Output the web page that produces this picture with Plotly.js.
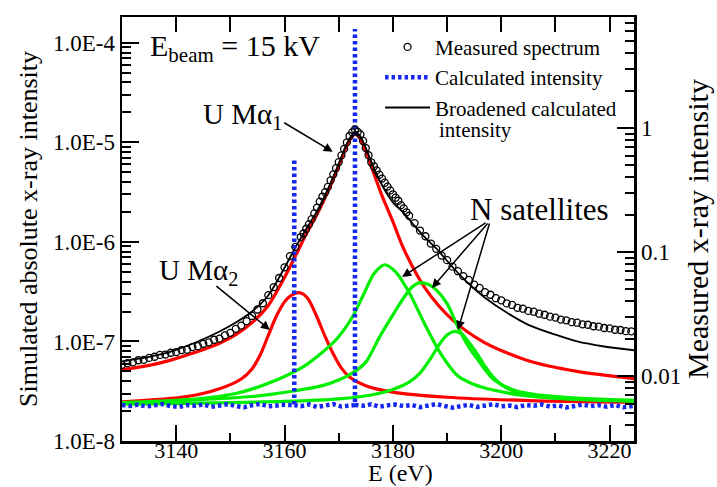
<!DOCTYPE html>
<html>
<head>
<meta charset="utf-8">
<script src="https://cdn.plot.ly/plotly-3.0.1.min.js"></script>
<style>html,body{margin:0;padding:0;background:#fff}</style>
</head>
<body>
<div id="chart" style="width:717px;height:487px"></div>
<script>
// ---------------- data ----------------
// Measured spectrum (right axis, relative units)
const E_meas = [3130,3131,3132,3133,3134,3135,3136,3137,3138,3139,
  3140,3141,3142,3143,3144,3145,3146,3147,3148,3149,
  3150,3151,3152,3153,3154,3155,3156,3157,3158,3159,
  3160,3161,3162,3163,3163.5,3164,3164.5,3165,3165.5,3166,3166.5,3167,3167.5,3168,3168.5,3169,3169.5,
  3170,3170.5,3171,3171.5,3172,3172.5,3173,3173.5,3174,3174.5,3175,3175.5,3176,3176.5,3177,3177.5,3178,3178.5,3179,3179.5,
  3180,3180.5,3181,3181.5,3182,3182.5,3183,3184,3185,3186,3187,3188,3189,
  3190,3191,3192,3193,3194,3195,3196,3197,3198,3199,
  3200,3201,3202,3203,3204,3205,3206,3207,3208,3209,
  3210,3211,3212,3213,3214,3215,3216,3217,3218,3219,
  3220,3221,3222,3223,3224];
const I_meas = [0.0123,0.0127,0.0129,0.0134,0.0135,0.0140,0.0143,0.0148,0.0149,0.0154,
  0.0156,0.0162,0.0163,0.0171,0.0174,0.0182,0.0187,0.0196,0.0200,0.0213,
  0.0223,0.0240,0.0255,0.0277,0.0305,0.0344,0.0386,0.0449,0.0520,0.0617,
  0.0752,0.0927,0.110,0.132,0.141,0.154,0.167,0.184,0.205,0.228,0.255,0.280,0.304,0.335,0.378,0.423,0.475,
  0.531,0.602,0.678,0.765,0.862,0.921,0.972,0.930,0.887,0.786,0.689,0.603,0.529,0.491,0.455,0.420,0.391,0.362,0.337,0.314,
  0.292,0.274,0.259,0.239,0.225,0.209,0.196,0.171,0.149,0.134,0.117,0.106,0.0935,
  0.0860,0.0762,0.0700,0.0639,0.0596,0.0546,0.0513,0.0474,0.0452,0.0424,
  0.0408,0.0385,0.0374,0.0355,0.0349,0.0335,0.0330,0.0318,0.0312,0.0301,
  0.0296,0.0285,0.0281,0.0272,0.0269,0.0261,0.0259,0.0252,0.0250,0.0244,
  0.0242,0.0236,0.0235,0.0230,0.0229];

// Calculated intensity (left axis), null = pen up
const E_calc = [3130,3131.5,3133,3134.5,3136,3137.5,3139,3140.5,3142,3143.5,3145,3146.5,3148,3149.5,3151,3152.5,
  3154,3155.5,3157,3158.5,3160,3161.8,3161.8,3161.8,3161.8,3163,3164.5,3166,3167.5,3169,3170.5,3172,3173,3173,3173,3173,
  3174.5,3176,3177.5,3179,3180.5,3182,3183.5,3185,3186.5,3188,3189.5,3191,3192.5,3194,3195.5,3197,3198.5,3200,
  3201.5,3203,3204.5,3206,3207.5,3209,3210.5,3212,3213.5,3215,3216.5,3218,3219.5,3221,3222.5,3224,3225];
const I_calc = [2.30e-8,2.25e-8,2.32e-8,2.22e-8,2.28e-8,2.35e-8,2.24e-8,2.20e-8,2.30e-8,2.26e-8,2.33e-8,2.21e-8,2.27e-8,2.34e-8,2.25e-8,2.18e-8,
  2.29e-8,2.36e-8,2.23e-8,2.28e-8,2.31e-8,2.30e-8,7.0e-6,null,2.30e-8,2.24e-8,2.33e-8,2.20e-8,2.27e-8,2.35e-8,2.22e-8,2.29e-8,2.30e-8,1.38e-4,null,2.30e-8,
  2.26e-8,2.34e-8,2.21e-8,2.28e-8,2.32e-8,2.24e-8,2.30e-8,2.19e-8,2.27e-8,2.35e-8,2.25e-8,2.16e-8,2.24e-8,2.31e-8,2.20e-8,2.28e-8,2.34e-8,2.23e-8,
  2.27e-8,2.19e-8,2.30e-8,2.26e-8,2.33e-8,2.22e-8,2.28e-8,2.17e-8,2.25e-8,2.32e-8,2.24e-8,2.29e-8,2.21e-8,2.30e-8,2.18e-8,2.26e-8,2.28e-8];

// Broadened calculated intensity (left axis)
const E_broad = [3130,3135,3139,3144,3148,3151,3154,3157,3160,3162,3164,3166,3168,3170,3171.5,3172.5,3173.2,3174,3175,3176,
  3178,3180,3182,3184,3186,3188,3191,3194,3197,3201,3205,3210,3214,3219,3225];
const I_broad = [6.3e-8,7.0e-8,7.9e-8,1.0e-7,1.26e-7,1.55e-7,2.0e-7,2.9e-7,5.5e-7,8.8e-7,1.35e-6,2.05e-6,3.4e-6,6.1e-6,9.7e-6,1.2e-5,1.27e-5,1.15e-5,8.8e-6,6.4e-6,
  3.7e-6,2.5e-6,1.95e-6,1.45e-6,1.1e-6,8.6e-7,5.6e-7,3.8e-7,2.75e-7,1.95e-7,1.47e-7,1.17e-7,1.0e-7,8.9e-8,8.1e-8];

// U M-alpha1 component
const E_ma1 = [3130,3135,3139,3143,3148,3151,3154,3157,3160,3162,3164,3166,3168,3170,3171.5,3172.5,3173.2,3174,3175,3176,
  3178,3180,3182,3186,3191,3197,3205,3214,3225];
const I_ma1 = [5.2e-8,5.75e-8,6.5e-8,7.6e-8,9.6e-8,1.17e-7,1.55e-7,2.3e-7,4.4e-7,7.2e-7,1.2e-6,1.9e-6,3.2e-6,5.8e-6,9.3e-6,1.15e-5,1.2e-5,1.08e-5,8.2e-6,5.8e-6,
  2.9e-6,1.6e-6,8.5e-7,3.4e-7,1.65e-7,9.7e-8,6.4e-8,5.0e-8,4.2e-8];

// U M-alpha2 component
const E_ma2 = [3130,3142,3148,3152,3154,3155.5,3157,3158.5,3160,3161,3162,3162.6,3163.5,3164.5,3166,3167.5,3169,3170.5,3172,3175,3180,3190,3205,3225];
const I_ma2 = [2.48e-8,2.8e-8,3.35e-8,4.2e-8,5.3e-8,7.3e-8,1.15e-7,1.8e-7,2.5e-7,2.85e-7,3.05e-7,3.1e-7,2.98e-7,2.6e-7,1.75e-7,1.12e-7,7.5e-8,5.4e-8,4.4e-8,3.6e-8,3.1e-8,2.75e-8,2.55e-8,2.45e-8];

// N satellites
const E_sat1 = [3130,3142,3151,3157,3163.5,3167,3169.5,3172.5,3174.5,3176.5,3178.5,3180.5,3183,3186,3189,3192,3195,3198.5,3204.5,3212,3225];
const I_sat1 = [2.43e-8,2.6e-8,3.0e-8,3.8e-8,5.6e-8,7.8e-8,1.04e-7,1.75e-7,2.9e-7,4.8e-7,5.9e-7,5.0e-7,3.1e-7,1.45e-7,7.3e-8,4.5e-8,3.7e-8,3.25e-8,2.85e-8,2.65e-8,2.5e-8];
const E_sat2 = [3130,3154,3162,3167,3170,3172.5,3175,3177.5,3180,3182,3183.5,3185,3186.5,3188,3190,3192,3194,3196,3198.5,3202,3206,3214,3225];
const I_sat2 = [2.4e-8,2.8e-8,3.2e-8,3.6e-8,4.1e-8,4.8e-8,6.2e-8,1.1e-7,1.85e-7,2.75e-7,3.5e-7,3.9e-7,3.75e-7,3.3e-7,2.4e-7,1.4e-7,8.8e-8,6.2e-8,4.2e-8,3.3e-8,2.95e-8,2.7e-8,2.55e-8];
const E_sat3 = [3130,3160,3170,3176,3180,3183,3185,3187,3188.6,3190,3191.4,3192.8,3194,3195.5,3197,3198.5,3200,3202,3205,3210,3225];
const I_sat3 = [2.34e-8,2.5e-8,2.65e-8,2.9e-8,3.3e-8,3.9e-8,4.8e-8,6.8e-8,9.4e-8,1.16e-7,1.26e-7,1.18e-7,9.8e-8,7.6e-8,5.6e-8,4.4e-8,3.7e-8,3.2e-8,2.9e-8,2.7e-8,2.55e-8];

// Tick labels
const xTickVals = [3140,3160,3180,3200,3220];
const xTickText = ['3140','3160','3180','3200','3220'];
const yTickVals = [1e-8,1e-7,1e-6,1e-5,1e-4];
const yTickText = ['1.0E-8','1.0E-7','1.0E-6','1.0E-5','1.0E-4'];
const y2TickVals = [0.01,0.1,1];
const y2TickText = ['0.01','0.1','1'];

// ---------------- chart ----------------
function minorLog(d0, d1){ const v=[]; for(let d=d0; d<=d1; d++){ for(let k=2;k<=9;k++){ v.push(k*Math.pow(10,d)); } } return v; }

const FONT = 'Liberation Serif, Times New Roman, serif';
const red = 'rgb(255,0,0)', green = 'rgb(0,238,0)';
const XR = [3130,3224.5];

const traces = [
  {x:E_ma1, y:I_ma1, mode:'lines', line:{color:red, width:3.2, shape:'spline', smoothing:0.8}, showlegend:false, hoverinfo:'skip'},
  {x:E_ma2, y:I_ma2, mode:'lines', line:{color:red, width:3.2, shape:'spline', smoothing:0.8}, showlegend:false, hoverinfo:'skip'},
  {x:E_sat1, y:I_sat1, mode:'lines', line:{color:green, width:3.2, shape:'spline', smoothing:0.8}, showlegend:false, hoverinfo:'skip'},
  {x:E_sat2, y:I_sat2, mode:'lines', line:{color:green, width:3.2, shape:'spline', smoothing:0.8}, showlegend:false, hoverinfo:'skip'},
  {x:E_sat3, y:I_sat3, mode:'lines', line:{color:green, width:3.2, shape:'spline', smoothing:0.8}, showlegend:false, hoverinfo:'skip'},
  {x:E_broad, y:I_broad, mode:'lines', name:'Broadened calculated', legendgroup:'c', legendrank:3,
   line:{color:'black', width:1.8, shape:'spline', smoothing:0.8}},
  {x:E_calc, y:I_calc, mode:'lines', name:'Calculated intensity', legendgroup:'b', legendrank:2, connectgaps:false,
   line:{color:'rgb(20,40,240)', width:4.5, dash:'3.5px,3px'}},
  {x:E_meas, y:I_meas, yaxis:'y2', mode:'markers', name:'Measured spectrum', legendgroup:'a', legendrank:1,
   marker:{symbol:'circle-open', size:7, color:'black', line:{width:1.3, color:'black'}}},
  {x:[], y:[], xaxis:'x2', yaxis:'y', showlegend:false}
];

const axisCommon = {showgrid:false, zeroline:false, linecolor:'black', tickcolor:'black', ticks:'inside', tickwidth:2};

const layout = {
  width:717, height:487,
  margin:{l:122, r:83, t:17, b:46},
  paper_bgcolor:'white', plot_bgcolor:'white',
  font:{family:FONT, color:'black', size:22},
  showlegend:true,
  legend:{x:0.504, xanchor:'left', y:0.977, yanchor:'top', bgcolor:'rgba(0,0,0,0)', borderwidth:0,
          font:{family:FONT, size:21, color:'black'}, traceorder:'grouped', tracegroupgap:0, itemwidth:45, valign:'middle'},
  xaxis:Object.assign({}, axisCommon, {
    range:XR, tickmode:'array', tickvals:xTickVals, ticktext:xTickText, ticklen:16,
    minor:{dtick:10, tick0:3130, ticks:'inside', ticklen:8, tickwidth:2, tickcolor:'black'},
    showline:true, linewidth:2.5, mirror:true, ticklabelstandoff:-12,
    tickfont:{family:FONT, size:22}
  }),
  xaxis2:Object.assign({}, axisCommon, {
    overlaying:'x', side:'top', anchor:'y', range:XR, tickmode:'linear', tick0:3130, dtick:10,
    ticklen:15, showticklabels:false, showline:false
  }),
  yaxis:Object.assign({}, axisCommon, {
    type:'log', range:[-8,-3.74], tickmode:'array', tickvals:yTickVals, ticktext:yTickText, ticklen:17,
    minor:{tickmode:'array', tickvals:minorLog(-8,-5), ticks:'inside', ticklen:9, tickwidth:2, tickcolor:'black'},
    showline:true, linewidth:2.5, mirror:false,
    tickfont:{family:FONT, size:23},
    title:{text:'Simulated absolute x-ray intensity', font:{family:FONT, size:26}, standoff:8}
  }),
  yaxis2:Object.assign({}, axisCommon, {
    type:'log', overlaying:'y', side:'right', range:[-2.524,0.895], tickmode:'array', tickvals:y2TickVals, ticktext:y2TickText, ticklen:17,
    minor:{tickmode:'array', tickvals:minorLog(-3,0), ticks:'inside', ticklen:9, tickwidth:2, tickcolor:'black'},
    showline:true, linewidth:2.5,
    tickfont:{family:FONT, size:23},
    title:{text:'Measured x-ray intensity', font:{family:FONT, size:30}, standoff:4}
  }),
  annotations:[
    {xref:'paper', yref:'paper', x:0.543, y:-0.1085, xanchor:'center', yanchor:'bottom', showarrow:false, borderpad:0,
     text:'E (eV)', font:{family:FONT, size:24}},
    {xref:'paper', yref:'paper', x:0.615, y:0.733, xanchor:'left', yanchor:'middle', showarrow:false,
     text:'intensity', font:{family:FONT, size:21}},
    {xref:'paper', yref:'paper', x:0.051, y:0.927, xanchor:'left', yanchor:'middle', showarrow:false,
     text:'E<sub>beam</sub> = 15 kV', font:{family:FONT, size:30}},
    {xref:'paper', yref:'paper', x:0.236, y:0.767, xanchor:'center', yanchor:'middle', showarrow:false,
     text:'U Mα<sub>1</sub>', font:{family:FONT, size:29}},
    {xref:'paper', yref:'paper', x:0.150, y:0.398, xanchor:'center', yanchor:'middle', showarrow:false,
     text:'U Mα<sub>2</sub>', font:{family:FONT, size:29}},
    {xref:'paper', yref:'paper', x:0.816, y:0.545, xanchor:'center', yanchor:'middle', showarrow:false,
     text:'N satellites', font:{family:FONT, size:31}},
    {xref:'x', yref:'y', x:3168.9, y:-5.095, ax:-50, ay:-30, text:'', showarrow:true, arrowhead:2, arrowsize:1.2, arrowwidth:1.5, arrowcolor:'black'},
    {xref:'x', yref:'y', x:3157.3, y:-6.884, ax:-55, ay:-45, text:'', showarrow:true, arrowhead:2, arrowsize:1.2, arrowwidth:1.5, arrowcolor:'black'},
    {xref:'x', yref:'y', x:3181.7, y:-6.352, ax:85, ay:-55, text:'', showarrow:true, arrowhead:2, arrowsize:1.2, arrowwidth:1.5, arrowcolor:'black'},
    {xref:'x', yref:'y', x:3187.2, y:-6.462, ax:57, ay:-66, text:'', showarrow:true, arrowhead:2, arrowsize:1.2, arrowwidth:1.5, arrowcolor:'black'},
    {xref:'x', yref:'y', x:3192.0, y:-6.884, ax:32, ay:-108, text:'', showarrow:true, arrowhead:2, arrowsize:1.2, arrowwidth:1.5, arrowcolor:'black'}
  ]
};

Plotly.newPlot('chart', traces, layout, {displayModeBar:false, staticPlot:true});
</script>
</body>
</html>
